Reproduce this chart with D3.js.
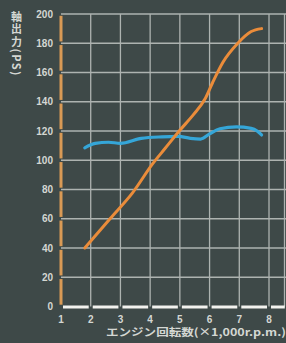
<!DOCTYPE html>
<html><head><meta charset="utf-8">
<script src="https://cdn.jsdelivr.net/npm/d3@7"></script>
<style>
html,body{margin:0;padding:0;background:#3e4948;}
svg{display:block;}
</style></head>
<body>
<script>
const xTicks = [1,2,3,4,5,6,7,8];
const yTicks = [0,20,40,60,80,100,120,140,160,180,200];
const powerRpm = [1.8, 2.65, 3.4, 4.1, 4.5, 5.0, 5.45, 5.85, 6.1, 6.45, 6.95, 7.4, 7.75];
const powerPS  = [40, 60, 77.5, 98, 108, 120.5, 131, 142, 153, 167, 180, 188, 190];
const torqueRpm = [1.8, 2.15, 2.6, 3.0, 3.7, 4.4, 4.95, 5.35, 5.7, 6.0, 6.35, 6.9, 7.4, 7.6, 7.75];
const torqueVal = [108.5, 111.5, 112.3, 111.6, 115, 116, 116.3, 115, 114.5, 118, 121.5, 122.8, 121.8, 120, 117.3];
const yTitle = "軸出力(PS)";
const xTitle = "エンジン回転数(×1,000r.p.m.)";

const W = 286, H = 343;
const svg = d3.select("body").append("svg").attr("width", W).attr("height", H);
svg.append("rect").attr("width", W).attr("height", H).attr("fill", "#3e4948");

const x = d3.scaleLinear().domain([1, 8]).range([61, 269]);
const y = d3.scaleLinear().domain([0, 200]).range([306.5, 14]);
const xRight = 286;

const grid = "#adb3b0";
svg.append("g").selectAll("line").data(yTicks.filter(d => d > 0)).join("line")
  .attr("x1", x(1)).attr("x2", xRight)
  .attr("y1", d => y(d)).attr("y2", d => y(d))
  .attr("stroke", grid).attr("stroke-width", 1.3);
svg.append("g").selectAll("line").data(xTicks.filter(d => d > 1)).join("line")
  .attr("x1", d => x(d)).attr("x2", d => x(d))
  .attr("y1", y(200)).attr("y2", y(0))
  .attr("stroke", grid).attr("stroke-width", 1.3);
svg.append("line").attr("x1", 284.5).attr("x2", 284.5).attr("y1", y(200)).attr("y2", y(0))
  .attr("stroke", grid).attr("stroke-width", 1.3);

svg.append("g").selectAll("line").data(d3.pairs(yTicks)).join("line")
  .attr("x1", x(1)).attr("x2", x(1))
  .attr("y1", d => y(d[0]) - 1.8).attr("y2", d => y(d[1]) + 1.8)
  .attr("stroke", "#d99a55").attr("stroke-width", 3);

const xSegDomain = xTicks.concat([8.6]);
svg.append("g").selectAll("line").data(d3.pairs(xSegDomain)).join("line")
  .attr("x1", d => x(d[0]) + 2).attr("x2", d => x(d[1]) - 2)
  .attr("y1", 307).attr("y2", 307)
  .attr("stroke", "#f2f2ee").attr("stroke-width", 3);

const labCol = "#d4d7d3";
svg.append("g").selectAll("text").data(yTicks).join("text")
  .attr("x", 53).attr("y", d => y(d)).attr("dy", "0.36em")
  .attr("text-anchor", "end").attr("fill", labCol)
  .attr("font-family", "'Liberation Sans', Arial, sans-serif").attr("font-weight", "bold")
  .attr("font-size", 10).text(d => d);
svg.append("g").selectAll("text").data(xTicks).join("text")
  .attr("x", d => x(d)).attr("y", 322.5)
  .attr("text-anchor", "middle").attr("fill", labCol)
  .attr("font-family", "'Liberation Sans', Arial, sans-serif").attr("font-weight", "bold")
  .attr("font-size", 10).text(d => d);

svg.append("text")
  .attr("x", 16.5).attr("y", 11)
  .attr("fill", labCol)
  .style("writing-mode", "vertical-rl")
  .style("text-orientation", "mixed")
  .style("letter-spacing", "1.5px")
  .attr("font-family", "'Noto Sans CJK JP', sans-serif").attr("font-weight", "bold")
  .attr("font-size", 11).text(yTitle);

svg.append("text").attr("x", 106).attr("y", 336)
  .attr("fill", labCol)
  .attr("font-family", "'Noto Sans CJK JP', sans-serif").attr("font-weight", "bold")
  .attr("font-size", 10.5).attr("textLength", 180).attr("lengthAdjust", "spacingAndGlyphs")
  .text(xTitle);

const line = d3.line().x(d => x(d[0])).y(d => y(d[1])).curve(d3.curveMonotoneX);
svg.append("path").datum(d3.zip(torqueRpm, torqueVal))
  .attr("d", line).attr("fill", "none")
  .attr("stroke", "#35a6d8").attr("stroke-width", 3.2).attr("stroke-linecap", "round");
svg.append("path").datum(d3.zip(powerRpm, powerPS))
  .attr("d", line).attr("fill", "none")
  .attr("stroke", "#ea8c3a").attr("stroke-width", 3).attr("stroke-linecap", "round");
</script>
</body></html>
